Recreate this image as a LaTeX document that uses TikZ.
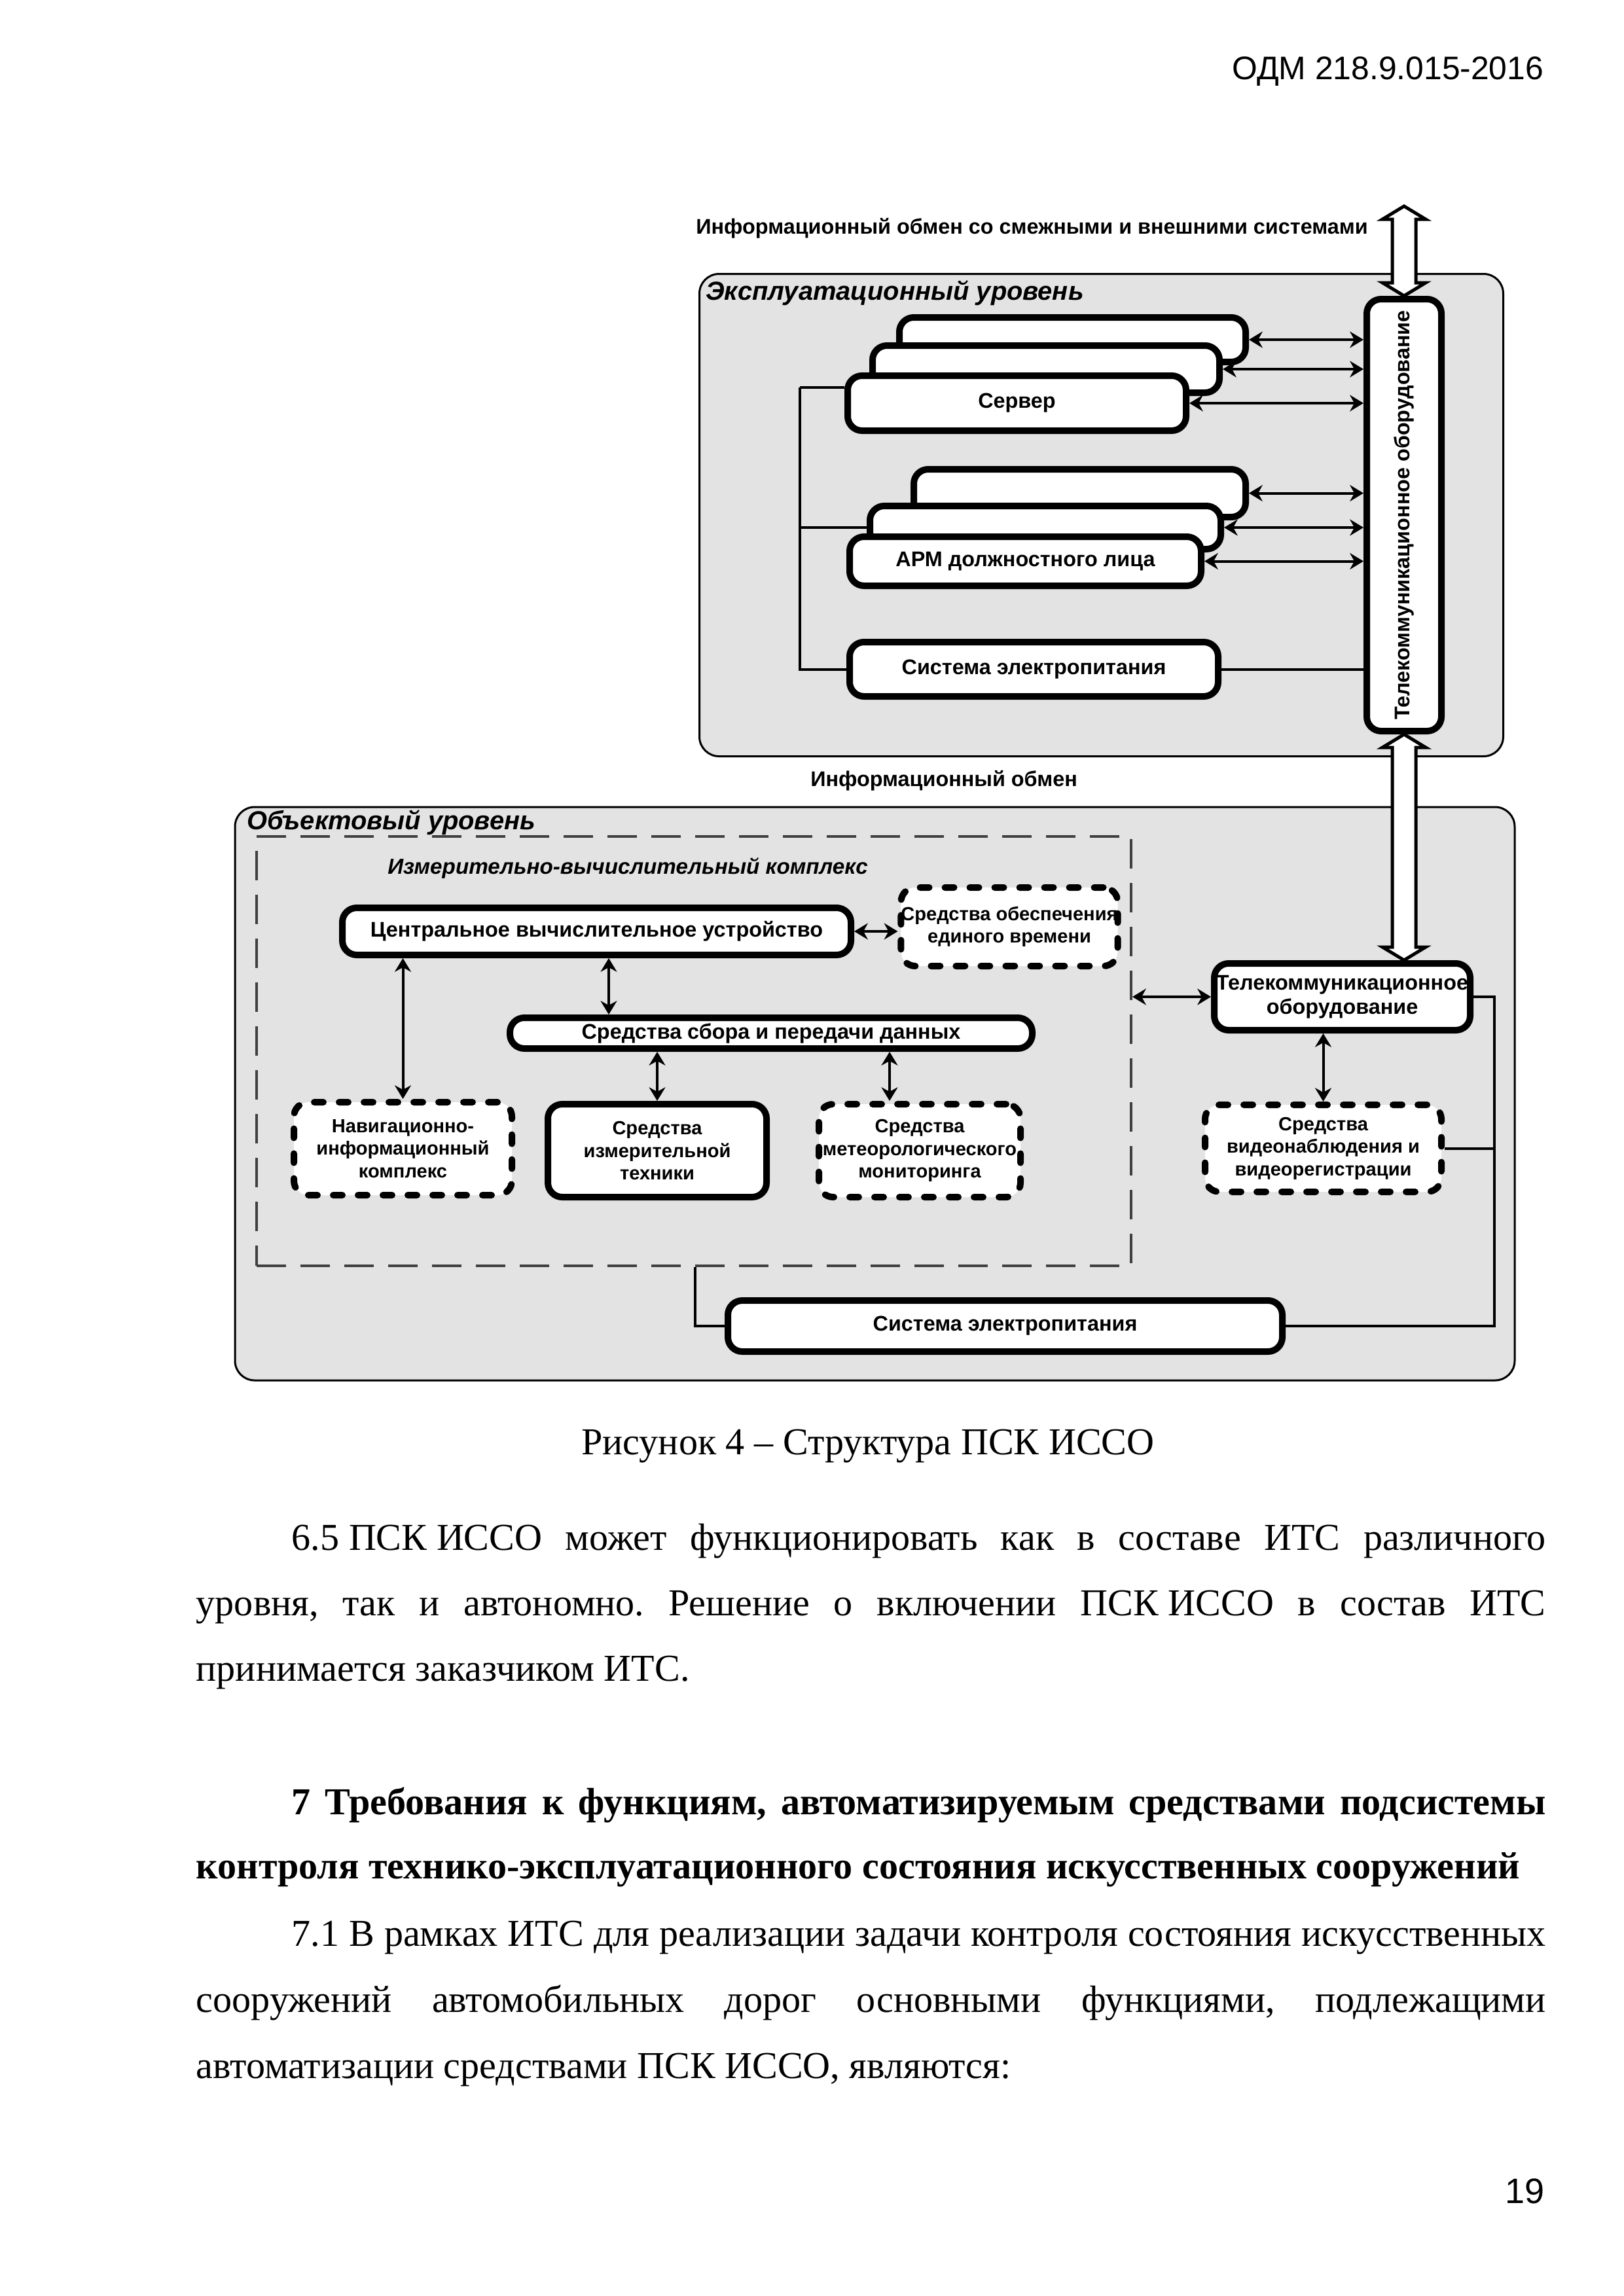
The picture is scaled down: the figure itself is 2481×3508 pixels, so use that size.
\documentclass[tikz,border=0pt]{standalone}
\usepackage{fontspec}
\setmainfont{Liberation Serif}
\newfontfamily\dfont{Liberation Sans}
\usetikzlibrary{arrows.meta,calc}
\newdimen\px \px=0.0846667mm
\newcommand{\fixsp}{\kern.25em}
\frenchspacing

\tikzset{
  level/.style={draw, line width=3\px, rounded corners=30\px, fill=black!11, inner sep=0pt},
  box/.style={draw, line width=10\px, rounded corners=22\px, fill=white, inner sep=0pt,
    align=center, font=\dfont\bfseries\fontsize{7.8}{9}\selectfont},
  multi/.style={box, font=\dfont\bfseries\fontsize{7}{8.3}\selectfont},
  dbox/.style={multi, dash pattern=on 14\px off 24\px, line cap=round},
  title/.style={font=\dfont\bfseries\itshape\fontsize{9.6}{11}\selectfont, inner sep=0pt},
  note/.style={font=\dfont\bfseries\fontsize{7.8}{9}\selectfont, inner sep=0pt},
  biarrow/.style={line width=4\px, {Stealth[length=5pt,width=6pt]}-{Stealth[length=5pt,width=6pt]}},
  link/.style={line width=4\px},
  hollow/.style={draw, line width=5\px, fill=white, line join=miter},
  body/.style={anchor=base west, inner sep=0pt, font=\fontsize{14}{16}\selectfont},
}

\begin{document}
\begin{tikzpicture}[x=1\px, y=-1\px]
\useasboundingbox (0,0) rectangle (2481,3508);

\node[anchor=base east, inner sep=0pt, font=\dfont\fontsize{12}{14}\selectfont] (odm) at (2359,121) {ОДМ 218.9.015-2016};

% levels
\node[level, minimum width=1228\px, minimum height=737\px] (expl) at (1682.5,787) {};
\node[level, minimum width=1955\px, minimum height=876\px] (obj) at (1336.5,1671) {};

\node[note] (extT) at (1576.5,349) {Информационный обмен со смежными и внешними системами};
\node[title] (explT) at (1367,448) {Эксплуатационный уровень};
\node[note] (infT) at (1442,1193) {Информационный обмен};
\node[title] (objT) at (597.5,1257) {Объектовый уровень};

% exploitation level
\node[box, minimum width=114\px, minimum height=660\px] (tel) at (2145,787) {};
\node[note, rotate=90] (telT) at (tel.center) {Телекоммуникационное оборудование};

\node[box, minimum width=529\px, minimum height=68\px] (srv3) at (1638.5,519) {};
\node[box, minimum width=530\px, minimum height=72\px] (srv2) at (1598,564) {};
\node[box, minimum width=517\px, minimum height=84\px] (srv1) at (1553.5,616) {Сервер};

\node[box, minimum width=507\px, minimum height=73\px] (arm3) at (1649.5,753.5) {};
\node[box, minimum width=536\px, minimum height=66\px] (arm2) at (1597,806) {};
\node[box, minimum width=537\px, minimum height=75\px] (arm1) at (1566.5,857.5) {АРМ должностного лица};

\node[box, minimum width=563\px, minimum height=83\px] (pwr) at (1579.5,1022.5) {Система электропитания};

\draw[biarrow] (srv3.east) -- (srv3.east -| tel.west);
\draw[biarrow] (srv2.east) -- (srv2.east -| tel.west);
\draw[biarrow] (srv1.east) -- (srv1.east -| tel.west);
\draw[biarrow] (arm3.east) -- (arm3.east -| tel.west);
\draw[biarrow] (arm2.east) -- (arm2.east -| tel.west);
\draw[biarrow] (arm1.east) -- (arm1.east -| tel.west);
\draw[link] (pwr.east) -- (pwr.east -| tel.west);

\coordinate (bus) at (1222,592);
\draw[link] (bus) -- (bus -| srv1.west);
\draw[link] (bus) |- (pwr.west);
\draw[link] (bus |- arm2.west) -- (arm2.west);

% object level
\node[draw=black!75, line width=4\px, dash pattern=on 45\px off 22\px, inner sep=0pt,
  minimum width=1336\px, minimum height=656\px] (ivk) at (1060,1606) {};
\node[title, font=\dfont\bfseries\itshape\fontsize{8}{9}\selectfont] (ivkT) at (959,1326) {Измерительно-вычислительный комплекс};

\node[box, minimum width=777\px, minimum height=72\px] (cpu) at (911.5,1423) {Центральное вычислительное устройство};
\node[dbox, minimum width=330\px, minimum height=120\px] (time) at (1542,1416) {Средства обеспечения\\единого времени};
\node[box, minimum width=798\px, minimum height=47\px] (sbor) at (1178,1578.5) {Средства сбора и передачи данных};
\node[dbox, minimum width=333\px, minimum height=142\px] (nav) at (615.5,1755) {Навигационно-\\информационный\\комплекс};
\node[multi, minimum width=334\px, minimum height=142\px] (meas) at (1004,1758) {Средства\\измерительной\\техники};
\node[dbox, minimum width=308\px, minimum height=142\px] (meteo) at (1405,1758) {Средства\\метеорологического\\мониторинга};

\node[box, minimum width=391\px, minimum height=102\px] (tel2) at (2050.5,1523) {Телекоммуникационное\\оборудование};
\node[dbox, minimum width=361\px, minimum height=133\px] (video) at (2021.5,1754.5) {Средства\\видеонаблюдения и\\видеорегистрации};
\node[box, minimum width=847\px, minimum height=78\px] (pwr2) at (1535.5,2026) {Система электропитания};

\coordinate (cs) at (930,0);
\coordinate (ms) at (1359,0);
\coordinate (pk) at (1062,0);
\coordinate (rl) at (2283,0);

\draw[biarrow] (cpu.east) -- (cpu.east -| time.west);
\draw[biarrow] (cs |- cpu.south) -- (cs |- sbor.north);
\draw[biarrow] (nav.north |- cpu.south) -- (nav.north);
\draw[biarrow] (meas.north |- sbor.south) -- (meas.north);
\draw[biarrow] (ms |- sbor.south) -- (ms |- meteo.north);
\draw[biarrow] (tel2.west -| ivk.east) -- (tel2.west);
\draw[biarrow] (tel2.south -| video.north) -- (video.north);
\draw[link] (pk |- ivk.south) |- (pwr2.west);
\draw[link] (pwr2.east) -| (rl |- tel2.east) -- (tel2.east);
\draw[link] (video.east) -- (video.east -| rl);

% exchange arrows
\coordinate (ext) at (2145,315);
\coordinate (low) at (tel.south |- tel2.north);
\draw[hollow] (ext) -- ($(ext)+(33,20)$) -- ($(ext)+(18,20)$) -- ($(tel.north)+(18,-20)$)
  -- ($(tel.north)+(33,-20)$) -- (tel.north) -- ($(tel.north)+(-33,-20)$)
  -- ($(tel.north)+(-18,-20)$) -- ($(ext)+(-18,20)$) -- ($(ext)+(-33,20)$) -- cycle;
\draw[hollow] (tel.south) -- ($(tel.south)+(33,20)$) -- ($(tel.south)+(18,20)$) -- ($(low)+(18,-20)$)
  -- ($(low)+(33,-20)$) -- (low) -- ($(low)+(-33,-20)$)
  -- ($(low)+(-18,-20)$) -- ($(tel.south)+(-18,20)$) -- ($(tel.south)+(-33,20)$) -- cycle;

% text of the page
\node[body, anchor=base] (cap) at (1326,2222) {Рисунок 4 – Структура ПСК ИССО};
\node[body] (p1) at (445,2368) {\makebox[1916\px][s]{6.5\fixsp ПСК\fixsp ИССО может функционировать как в составе ИТС различного}};
\node[body] (p2) at (299,2468) {\makebox[2062\px][s]{уровня, так и автономно. Решение о включении ПСК\fixsp ИССО в состав ИТС}};
\node[body] (p3) at (299,2568) {принимается заказчиком ИТС.};
\node[body] (h1) at (445,2772) {\makebox[1916\px][s]{\bfseries 7 Требования к функциям, автоматизируемым средствами подсистемы}};
\node[body] (h2) at (299,2870) {\bfseries контроля технико-эксплуатационного состояния искусственных сооружений};
\node[body] (q1) at (445,2973) {\makebox[1916\px][s]{7.1 В рамках ИТС для реализации задачи контроля состояния искусственных}};
\node[body] (q2) at (299,3074) {\makebox[2062\px][s]{сооружений автомобильных дорог основными функциями, подлежащими}};
\node[body] (q3) at (299,3175) {автоматизации средствами ПСК ИССО, являются:};
\node[anchor=base east, inner sep=0pt, font=\dfont\fontsize{13}{15}\selectfont] (pg) at (2360,3366) {19};
\end{tikzpicture}
\end{document}
